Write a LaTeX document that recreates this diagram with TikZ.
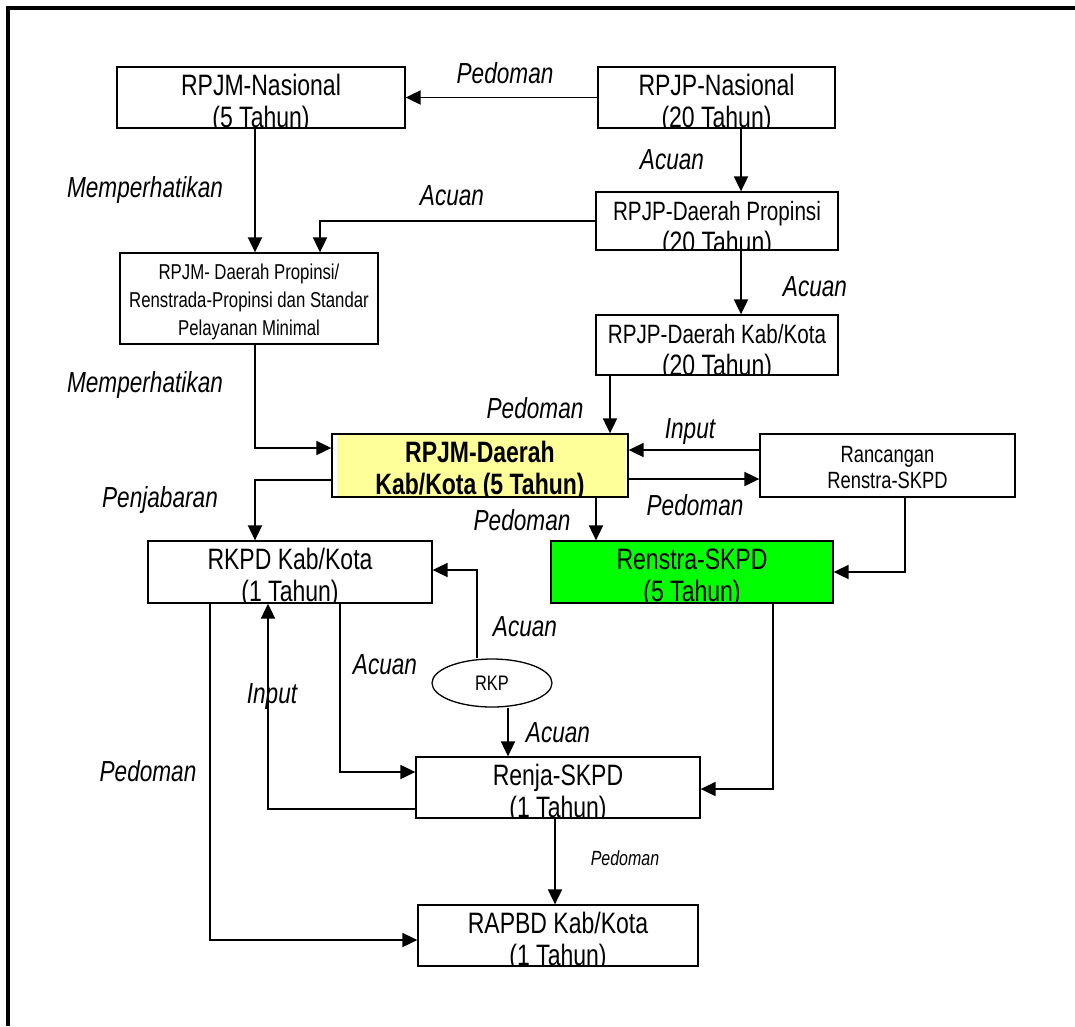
\documentclass[tikz,border=0pt]{standalone}
\usepackage{fontspec}
\setmainfont{Liberation Sans}[FakeStretch=0.78]
\usetikzlibrary{arrows.meta,shapes.geometric}
\definecolor{ylw}{RGB}{255,255,153}
\definecolor{grn}{RGB}{0,255,0}
\tikzset{
 box/.style={draw, line width=1.3pt, rectangle, inner sep=0pt, fill=white},
 btxt/.style={inner sep=0pt, font=\fontsize{29.5}{34}\selectfont},
 stxt/.style={inner sep=0pt, font=\fontsize{21.5}{25}\selectfont},
 rtxt/.style={inner sep=0pt, font=\fontsize{23.5}{27}\selectfont},
 lab/.style={inner sep=0pt, font=\itshape\fontsize{29}{32}\selectfont},
 slab/.style={inner sep=0pt, font=\itshape\fontsize{20.5}{23}\selectfont},
 arr/.style={line width=1.9pt, -{Triangle[length=15pt,width=14pt]}},
 framel/.style={line width=4pt},
}
\newcommand\smallerb{\fontsize{26.5}{30}\selectfont}
\newcommand\twobox[8]{%
 \node[box,#6,minimum width=#4,minimum height=#5] (#1) at (#2,#3) {};
 \begin{scope}
 \clip (#1.south west) rectangle (#1.north east);
 \node[btxt,anchor=base] (#1a) at ([yshift=-29pt]#1.north) {#7};
 \node[btxt,anchor=base] (#1b) at ([yshift=-61pt]#1.north) {#8};
 \end{scope}
 \draw[line width=1.3pt] (#1.south west) rectangle (#1.north east);
}
\begin{document}
\begin{tikzpicture}[x=1pt,y=-1pt]
\useasboundingbox (0,0) rectangle (1075,1026);
\fill[white] (0,0) rectangle (1075,1026);
\draw[framel] (8,1026) -- (8,8) -- (1075,8);

\twobox{rpjmn}{261}{97.5}{288pt}{61pt}{}{RPJM-Nasional}{(5 Tahun)}
\twobox{rpjpn}{716.5}{97.5}{237pt}{61pt}{}{RPJP-Nasional}{(20 Tahun)}
\twobox{rpjpdp}{717}{221}{242pt}{58pt}{}{\smallerb RPJP-Daerah Propinsi}{(20 Tahun)}
\twobox{rpjpdkk}{717}{345}{242pt}{60pt}{}{\smallerb RPJP-Daerah Kab/Kota}{(20 Tahun)}
\twobox{rpjmd}{480}{465.5}{296pt}{63pt}{path picture={\fill[ylw] ([xshift=5pt]path picture bounding box.south west) rectangle ([xshift=-3pt]path picture bounding box.north east);}}{\bfseries RPJM-Daerah}{\bfseries Kab/Kota (5 Tahun)}
\twobox{rkpd}{290}{572}{284pt}{62pt}{}{RKPD Kab/Kota}{(1 Tahun)}
\twobox{renstra}{692}{572}{282pt}{62pt}{fill=grn}{Renstra-SKPD}{(5 Tahun)}
\twobox{renja}{558}{787.5}{284pt}{61pt}{}{Renja-SKPD}{(1 Tahun)}
\twobox{rapbd}{558}{935.5}{280pt}{61pt}{}{RAPBD Kab/Kota}{(1 Tahun)}

\node[box, minimum width=258pt, minimum height=91pt] (rpjmdp) at (249,298.5) {};
\node[stxt, anchor=base] (rpjmdpa) at ([yshift=-27pt]rpjmdp.north) {RPJM- Daerah Propinsi/};
\node[stxt, anchor=base] (rpjmdpb) at ([yshift=-55pt]rpjmdp.north) {Renstrada-Propinsi dan Standar};
\node[stxt, anchor=base] (rpjmdpc) at ([yshift=-83pt]rpjmdp.north) {Pelayanan Minimal};

\node[box, minimum width=255pt, minimum height=63pt] (ranc) at (887.5,465.5) {};
\node[rtxt, anchor=base] (ranca) at ([yshift=-29pt]ranc.north) {Rancangan};
\node[rtxt, anchor=base] (rancb) at ([yshift=-55pt]ranc.north) {Renstra-SKPD};

\node[draw, ellipse, line width=1.3pt, minimum width=120pt, minimum height=48pt, inner sep=0pt, font=\fontsize{21}{24}\selectfont] (rkp) at (492,683) {RKP};

\draw[arr] (rpjpn.west) -- (rpjmn.east);
\draw[arr] ([xshift=-6pt]rpjmn.south) -- ([xshift=-6pt]rpjmn.south |- rpjmdp.north);
\draw[arr] ([xshift=24.5pt]rpjpn.south) -- ([xshift=24.5pt]rpjpn.south |- rpjpdp.north);
\draw[arr] (rpjpdp.west) -| ([xshift=71pt]rpjmdp.north);
\draw[arr] ([xshift=24pt]rpjpdp.south) -- ([xshift=24pt]rpjpdp.south |- rpjpdkk.north);
\draw[arr] ([xshift=6pt]rpjmdp.south) |- ([yshift=17.5pt]rpjmd.west);
\draw[arr] ([xshift=-107pt]rpjpdkk.south) -- ([xshift=-107pt]rpjpdkk.south |- rpjmd.north);
\draw[arr] ([yshift=15.5pt]ranc.west) -- ([yshift=15.5pt]rpjmd.east);
\draw[arr] ([yshift=-13.5pt]rpjmd.east) -- ([yshift=-13.5pt]ranc.west);
\draw[arr] ([yshift=-14.5pt]rpjmd.west) -| ([xshift=-35pt]rkpd.north);
\draw[arr] ([xshift=116pt]rpjmd.south) -- ([xshift=116pt]rpjmd.south |- renstra.north);
\draw[arr] ([xshift=17.5pt]ranc.south) |- (renstra.east);
\draw[arr] ([xshift=-15pt]rkp.north) |- ([yshift=2pt]rkpd.east);
\draw[arr] ([xshift=16pt]rkp.south) -- ([xshift=16pt]rkp.south |- renja.north);
\draw[arr] ([xshift=50pt]rkpd.south) |- ([yshift=15.5pt]renja.west);
\draw[arr] ([yshift=-21.5pt]renja.west) -| ([xshift=-22pt]rkpd.south);
\draw[arr] ([xshift=81pt]renstra.south) |- ([yshift=-1.5pt]renja.east);
\draw[arr] ([xshift=-3pt]renja.south) -- ([xshift=-3pt]renja.south |- rapbd.north);
\draw[arr] ([xshift=-80pt]rkpd.south) |- ([yshift=-4.5pt]rapbd.west);

\node[lab] (l1) at (505,73) {Pedoman};
\node[lab] (l2) at (145,190) {Memperhatikan};
\node[lab] (l3) at (672,160) {Acuan};
\node[lab] (l4) at (452,196) {Acuan};
\node[lab] (l5) at (815,287) {Acuan};
\node[lab] (l6) at (145,385) {Memperhatikan};
\node[lab] (l7) at (535,408) {Pedoman};
\node[lab] (l8) at (690,432) {Input};
\node[lab] (l9) at (695,505) {Pedoman};
\node[lab] (l10) at (160,500) {Penjabaran};
\node[lab] (l11) at (522,520) {Pedoman};
\node[lab] (l12) at (525,627) {Acuan};
\node[lab] (l13) at (385,665) {Acuan};
\node[lab] (l14) at (272,697) {Input};
\node[lab] (l15) at (558,733) {Acuan};
\node[lab] (l16) at (148,771) {Pedoman};
\node[slab] (l17) at (625,858) {Pedoman};
\end{tikzpicture}
\end{document}
